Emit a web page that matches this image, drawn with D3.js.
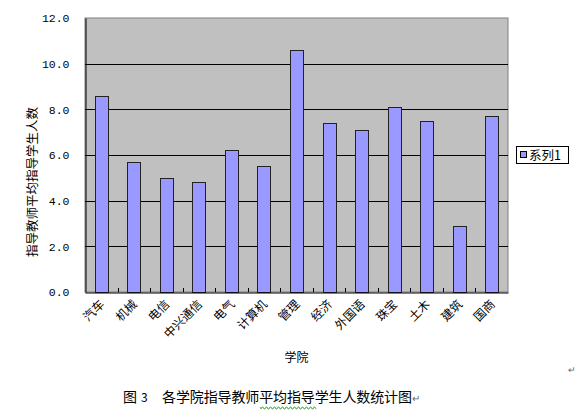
<!DOCTYPE html>
<html><head><meta charset="utf-8">
<script src="https://cdn.jsdelivr.net/npm/d3@7"></script>
<style>body{margin:0;background:#fff;} svg{display:block;}</style>
</head><body>
<svg id="c" width="578" height="419"></svg>
<script>
const categories = ["汽车","机械","电信","中兴通信","电气","计算机","管理","经济","外国语","珠宝","土木","建筑","国商"];
const values = [8.6,5.7,5.0,4.8,6.2,5.5,10.6,7.4,7.1,8.1,7.5,2.9,7.7];
const yTicks = [0,2,4,6,8,10,12];
const seriesName = "系列1";
const yTitle = "指导教师平均指导学生人数";
const xTitle = "学院";
const captionNo = ["图", "3"];
const caption = "各学院指导教师平均指导学生人数统计图";

const svg = d3.select("#c");
const L = 85, R = 508, T = 18, B = 292;
const x = d3.scaleBand().domain(categories).range([L, R]).paddingInner(0.6).paddingOuter(0.3);
const y = d3.scaleLinear().domain([0, 12]).range([B, T]);
const cjk = "'SimSun','Noto Sans CJK SC',sans-serif";

// plot area
svg.append("rect").attr("x", L).attr("y", T).attr("width", R - L).attr("height", B - T)
  .attr("fill", "#c0c0c0").attr("stroke", "#808080").attr("stroke-width", 1);

// gridlines
svg.append("g").selectAll("line").data(yTicks.filter(d => d > 0 && d < 12)).join("line")
  .attr("x1", L).attr("x2", R).attr("y1", d => Math.round(y(d)) + 0.5).attr("y2", d => Math.round(y(d)) + 0.5)
  .attr("stroke", "#000").attr("stroke-width", 1);

// bars
svg.append("g").selectAll("rect").data(values).join("rect")
  .attr("x", (d, i) => Math.round(x(categories[i])) + 0.5)
  .attr("y", d => Math.round(y(d)) + 0.5)
  .attr("width", Math.round(x.bandwidth()))
  .attr("height", d => B - Math.round(y(d)))
  .attr("fill", "#9999ff").attr("stroke", "#222").attr("stroke-width", 1);

// y axis
const ya = d3.axisLeft(y).tickValues(yTicks).tickFormat(d3.format(".1f")).tickSize(0).tickPadding(16);
const yg = svg.append("g").attr("transform", `translate(${L + 0.5},0)`).call(ya);
yg.select(".domain").attr("stroke", "#000");
yg.selectAll("text").attr("font-family", "'Liberation Mono',monospace").attr("font-size", 11.5).attr("fill", "#000");

// x axis
const step = x.step();
const xa = d3.axisBottom(x).tickSize(0).tickFormat("");
const xg = svg.append("g").attr("transform", `translate(0,${B + 0.5})`).call(xa);
xg.select(".domain").attr("stroke", "#000");
svg.append("g").selectAll("line").data(categories.slice(1)).join("line")
  .attr("x1", d => Math.round(x(d) + x.bandwidth() / 2 - step / 2) + 0.5)
  .attr("x2", d => Math.round(x(d) + x.bandwidth() / 2 - step / 2) + 0.5)
  .attr("y1", B).attr("y2", B - 4).attr("stroke", "#000");

// x labels rotated
svg.append("g").selectAll("text").data(categories).join("text")
  .attr("transform", d => `translate(${x(d) + x.bandwidth() / 2 + 4},${B + 13}) rotate(-45)`)
  .attr("text-anchor", "end").attr("font-family", cjk).attr("font-size", 12).attr("fill", "#000")
  .text(d => d);

// axis titles
svg.append("text").attr("transform", `translate(37,182) rotate(-90)`).attr("text-anchor", "middle")
  .attr("font-family", cjk).attr("font-size", 12.5).attr("fill", "#000").text(yTitle);
svg.append("text").attr("x", (L + R) / 2).attr("y", 362).attr("text-anchor", "middle")
  .attr("font-family", cjk).attr("font-size", 12).attr("fill", "#000").text(xTitle);

// legend
const lg = svg.append("g");
lg.append("rect").attr("x", 516.5).attr("y", 146.5).attr("width", 52).attr("height", 17)
  .attr("fill", "#fff").attr("stroke", "#000");
lg.append("rect").attr("x", 520.5).attr("y", 151.5).attr("width", 6).attr("height", 6)
  .attr("fill", "#9999ff").attr("stroke", "#000");
lg.append("text").attr("x", 529).attr("y", 160).attr("font-family", cjk).attr("font-size", 12.5)
  .attr("fill", "#000").text(seriesName);

// caption
svg.append("text").attr("x", 123).attr("y", 402).attr("font-family", cjk).attr("font-size", 14)
  .attr("fill", "#000").text(captionNo[0]);
svg.append("text").attr("x", 141).attr("y", 402).attr("font-family", cjk).attr("font-size", 12)
  .attr("fill", "#000").text(captionNo[1]);
svg.append("text").attr("x", 162).attr("y", 402).attr("font-family", cjk).attr("font-size", 14)
  .attr("textLength", 250).attr("lengthAdjust", "spacing")
  .attr("fill", "#000").text(caption);
svg.append("text").attr("x", 412).attr("y", 402).attr("font-family", cjk).attr("font-size", 10)
  .attr("fill", "#666").text("↵");
svg.append("text").attr("x", 568).attr("y", 373).attr("font-family", cjk).attr("font-size", 9)
  .attr("fill", "#666").text("↵");
// green wavy underline
let p = "M260,407";
for (let xx = 260; xx < 316; xx += 2) p += ` L${xx + 1},${(xx / 2) % 2 === 0 ? 409 : 407} L${xx + 2},${(xx / 2) % 2 === 0 ? 407 : 409}`;
svg.append("path").attr("d", p).attr("fill", "none").attr("stroke", "#2e9b2e").attr("stroke-width", 0.8);
</script>
</body></html>
